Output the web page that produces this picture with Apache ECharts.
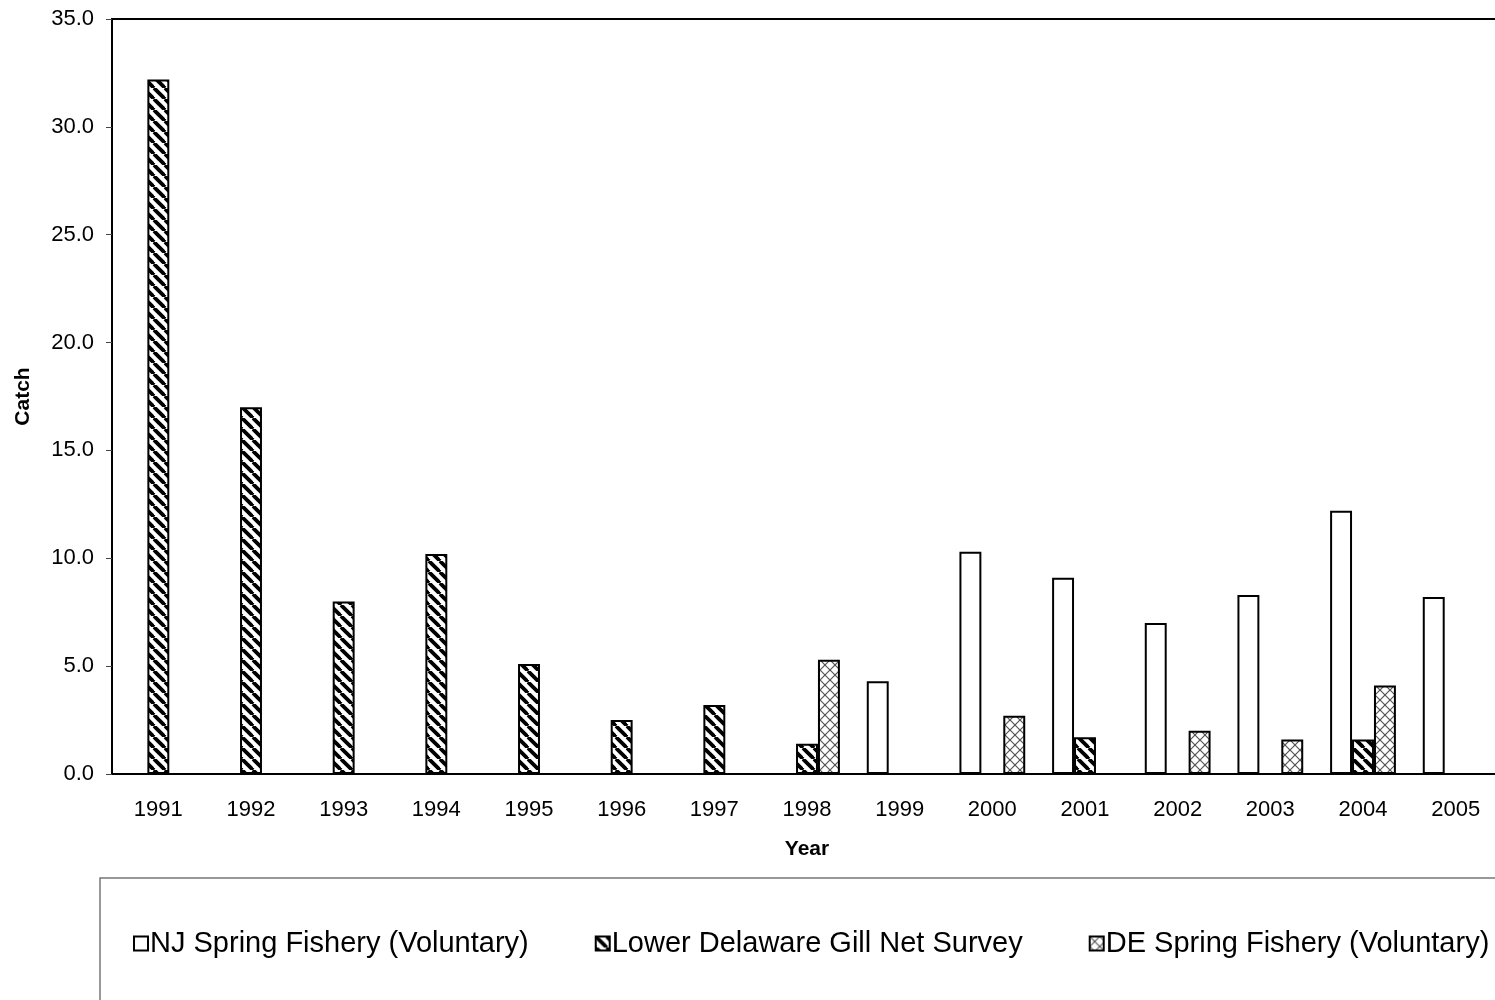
<!DOCTYPE html>
<html>
<head>
<meta charset="utf-8">
<script src="https://cdn.jsdelivr.net/npm/echarts@6/dist/echarts.min.js"></script>
<style>
html,body{margin:0;padding:0;background:#fff;overflow:hidden;}
#chart{width:1502px;height:1000px;}
</style>
</head>
<body>
<div id="chart"></div>
<script>
const years = ['1991','1992','1993','1994','1995','1996','1997','1998','1999','2000','2001','2002','2003','2004','2005'];
const njSpring = [null,null,null,null,null,null,null,null,4.3,10.3,9.1,7.0,8.3,12.2,8.2];
const lowerDelaware = [32.2,17.0,8.0,10.2,5.1,2.5,3.2,1.4,null,null,1.7,null,null,1.6,null];
const deSpring = [null,null,null,null,null,null,null,5.3,null,2.7,null,2.0,1.6,4.1,null];
const seriesNames = ['NJ Spring Fishery (Voluntary)','Lower Delaware Gill Net Survey','DE Spring Fishery (Voluntary)'];

const FONT = '"Liberation Sans", Arial, sans-serif';

// fill patterns like the old excel hatches
function stripePattern(){
    const s = 11;
    const c = document.createElement('canvas'); c.width = s; c.height = s;
    const g = c.getContext('2d');
    g.fillStyle = '#fff'; g.fillRect(0,0,s,s);
    g.strokeStyle = '#000'; g.lineWidth = 3.8;
    [-s,0,s].forEach(k => { g.beginPath(); g.moveTo(k,0); g.lineTo(k+s,s); g.stroke(); });
    return c;
}
function crossPattern(){
    const s = 10;
    const c = document.createElement('canvas'); c.width = s; c.height = s;
    const g = c.getContext('2d');
    g.fillStyle = '#fff'; g.fillRect(0,0,s,s);
    g.strokeStyle = '#555'; g.lineWidth = 1.2;
    g.beginPath(); g.moveTo(0,0); g.lineTo(s,s); g.stroke();
    g.beginPath(); g.moveTo(s,0); g.lineTo(0,s); g.stroke();
    return c;
}

const chart = echarts.init(document.getElementById('chart'));

const barStyle = fill => ({color: fill, borderColor: '#000', borderWidth: 2});

chart.setOption({
    animation: false,
    backgroundColor: '#fff',
    textStyle: {fontFamily: FONT},
    grid: {left: 112, top: 19, right: 0, bottom: 226, show: true, borderColor: '#000', borderWidth: 2, backgroundColor: 'transparent'},
    legend: {
        data: seriesNames,
        left: 100, top: 878, width: 1500,
        padding: [51, 40, 60, 33],
        borderColor: '#777', borderWidth: 1.5,
        itemWidth: 14, itemHeight: 14, itemGap: 66,
        icon: 'rect',
        textStyle: {fontFamily: FONT, fontSize: 29, color: '#000', padding: [0,0,0,-3]}
    },
    xAxis: {
        type: 'category', data: years,
        name: 'Year', nameLocation: 'middle', nameGap: 65,
        nameTextStyle: {fontFamily: FONT, fontSize: 21, fontWeight: 'bold', color: '#000'},
        axisLine: {lineStyle: {color: '#000', width: 2}},
        axisTick: {length: 7, lineStyle: {color: '#444', width: 1}},
        axisLabel: {fontFamily: FONT, fontSize: 22, color: '#000', margin: 25}
    },
    yAxis: {
        type: 'value', min: 0, max: 35, interval: 5,
        name: 'Catch', nameLocation: 'middle', nameGap: 78, nameRotate: 90,
        nameTextStyle: {fontFamily: FONT, fontSize: 21, fontWeight: 'bold', color: '#000'},
        axisLine: {show: true, lineStyle: {color: '#000', width: 2}},
        axisTick: {show: true, length: 6, lineStyle: {color: '#444', width: 1}},
        axisLabel: {fontFamily: FONT, fontSize: 22, color: '#000', margin: 18, formatter: v => v.toFixed(1)},
        splitLine: {show: false}
    },
    series: [
        {name: seriesNames[0], type: 'bar', data: njSpring, barGap: '0%', barCategoryGap: '29%', itemStyle: barStyle('#fff')},
        {name: seriesNames[1], type: 'bar', data: lowerDelaware, barGap: '0%', barCategoryGap: '29%', itemStyle: barStyle({image: stripePattern(), repeat: 'repeat'})},
        {name: seriesNames[2], type: 'bar', data: deSpring, barGap: '0%', barCategoryGap: '29%', itemStyle: barStyle({image: crossPattern(), repeat: 'repeat'})}
    ]
});

window.addEventListener('resize', () => chart.resize());
</script>
</body>
</html>
